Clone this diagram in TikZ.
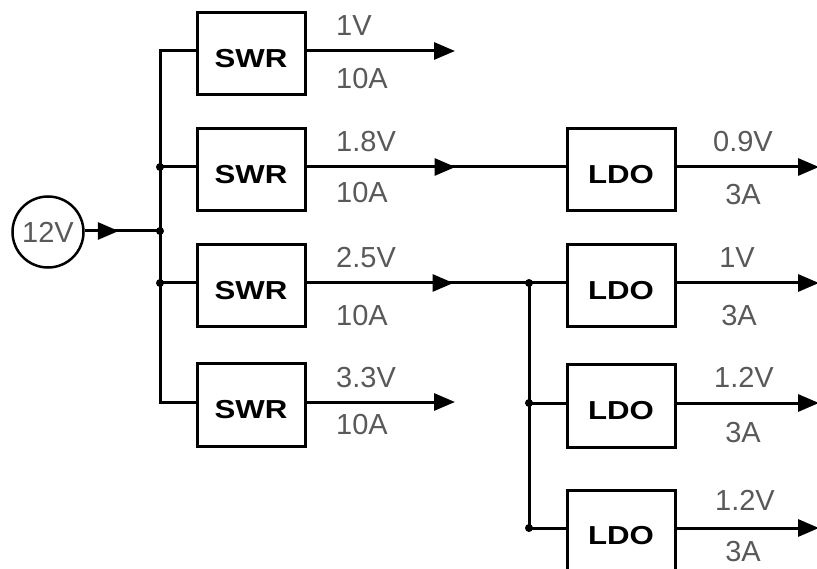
\documentclass[tikz,border=0pt]{standalone}
\usepackage{fontspec}
\setmainfont{Liberation Sans}
\newfontfamily\blockfont[FakeStretch=1.2]{Liberation Sans}
\usetikzlibrary{arrows.meta,decorations.markings}
\begin{document}
\begin{tikzpicture}[x=1pt,y=-1pt,
  wire/.style={line width=3pt},
  block/.style={draw,line width=3pt,minimum width=108pt,minimum height=82pt,
    inner sep=0pt,font=\blockfont\bfseries\fontsize{26}{26}\selectfont,
    text height=27pt,text depth=0pt},
  rating/.style={font=\fontsize{29}{29}\selectfont,text=black!65,inner sep=0pt},
  outarrow/.style={-{Triangle[length=21pt,width=17pt]}},
  midtip/.style={postaction={decorate},decoration={markings,
    mark=at position #1 with {\arrow{Triangle[length=21pt,width=17pt]}}}},
  joint/.style={circle,fill,inner sep=0pt,minimum size=8pt}]
\useasboundingbox (0,0) rectangle (817,569);
\clip (0,0) rectangle (817,569);

% 12 V source
\node[circle,draw,line width=2.5pt,minimum size=71pt,rating] (src) at (48,232) {12V};

% rails of the first bus
\coordinate (jin) at (160,231);
\coordinate (r1) at (160,51);
\coordinate (r2) at (160,167);
\coordinate (r3) at (160,283);
\coordinate (r4) at (160,402);

% switching regulators
\node[block] (s1) at (251,54) {SWR};
\node[block] (s2) at (251,170) {SWR};
\node[block] (s3) at (251,286) {SWR};
\node[block] (s4) at (251,405) {SWR};

% linear regulators
\node[block] (l1) at (621,170) {LDO};
\node[block] (l2) at (621,286) {LDO};
\node[block] (l3) at (621,406) {LDO};
\node[block] (l4) at (621,531) {LDO};

% second bus
\coordinate (k1) at (529,283);
\coordinate (k2) at (529,403);
\coordinate (k3) at (529,528);

% output ends
\coordinate (o1) at (455,51);
\coordinate (o4) at (455,402);
\coordinate (p1) at (819,167);
\coordinate (p2) at (819,283);
\coordinate (p3) at (819,403);
\coordinate (p4) at (819,528);

% input feed
\draw[wire,midtip=34pt] (src.east |- jin) -- (jin);

% first bus and branches
\draw[wire] (s1.west |- r1) -- (r1) -- (r4) -- (s4.west |- r4);
\draw[wire] (r2) -- (s2.west |- r2);
\draw[wire] (r3) -- (s3.west |- r3);

% SWR outputs
\draw[wire,outarrow] (s1.east |- r1) -- (o1);
\draw[wire,midtip=149pt] (s2.east |- r2) -- (l1.west |- r2);
\draw[wire,midtip=147pt] (s3.east |- r3) -- (k1) -- (l2.west |- k1);
\draw[wire,outarrow] (s4.east |- r4) -- (o4);

% second bus and branches
\draw[wire] (k1) -- (k3) -- (l4.west |- k3);
\draw[wire] (k2) -- (l3.west |- k2);

% LDO outputs
\draw[wire,outarrow] (l1.east |- p1) -- (p1);
\draw[wire,outarrow] (l2.east |- p2) -- (p2);
\draw[wire,outarrow] (l3.east |- p3) -- (p3);
\draw[wire,outarrow] (l4.east |- p4) -- (p4);

% junction dots
\node[joint] (d1) at (r2) {};
\node[joint] (d2) at (jin) {};
\node[joint] (d3) at (r3) {};
\node[joint] (d4) at (k1) {};
\node[joint] (d5) at (k2) {};
\node[joint] (d6) at (k3) {};

% SWR ratings
\node[rating,anchor=west] (v1) at (336,26) {1V};
\node[rating,anchor=west] (a1) at (336,79) {10A};
\node[rating,anchor=west] (v2) at (336,142) {1.8V};
\node[rating,anchor=west] (a2) at (336,193) {10A};
\node[rating,anchor=west] (v3) at (336,258) {2.5V};
\node[rating,anchor=west] (a3) at (336,316) {10A};
\node[rating,anchor=west] (v4) at (336,378) {3.3V};
\node[rating,anchor=west] (a4) at (336,425) {10A};

% LDO ratings
\node[rating] (v5) at (743,142) {0.9V};
\node[rating] (a5) at (743,195) {3A};
\node[rating] (v6) at (737,258) {1V};
\node[rating] (a6) at (739,316) {3A};
\node[rating] (v7) at (744,377) {1.2V};
\node[rating] (a7) at (743,433) {3A};
\node[rating] (v8) at (745,500) {1.2V};
\node[rating] (a8) at (743,552) {3A};
\end{tikzpicture}
\end{document}
